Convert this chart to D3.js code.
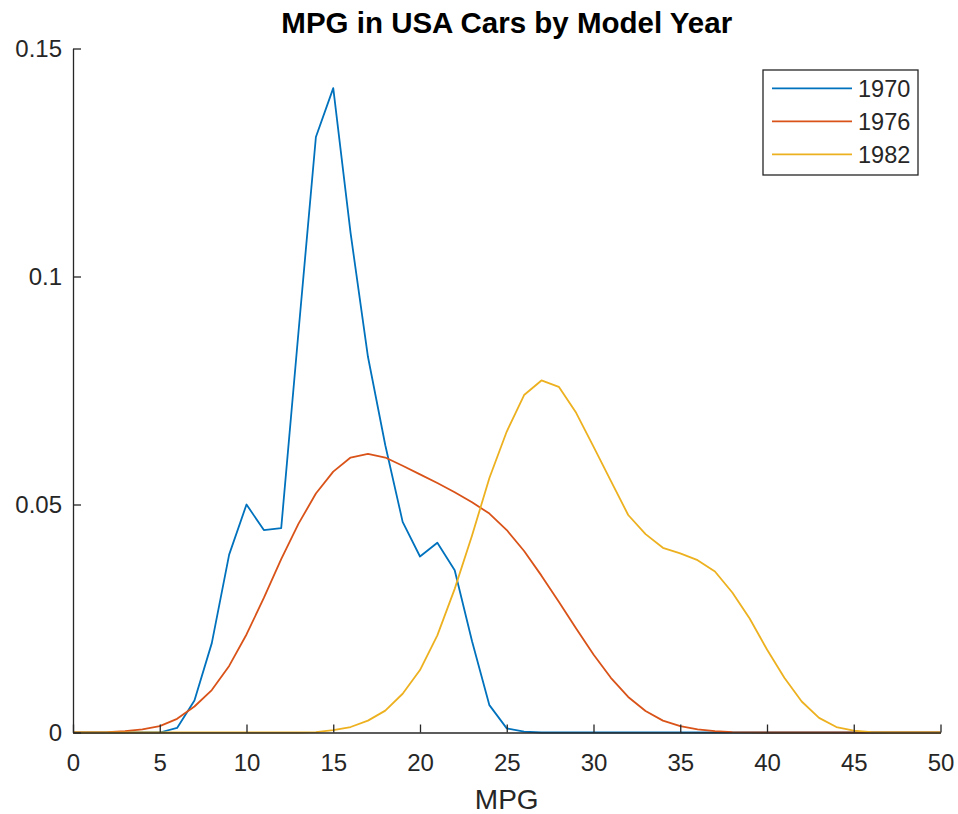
<!DOCTYPE html>
<html lang="en">
<head>
  <meta charset="UTF-8" />
  <title>MPG in USA Cars by Model Year</title>
  <script src="https://d3js.org/d3.v7.min.js"></script>
  <style>
    body {
      margin: 0;
      padding: 0;
      background-color: #fff;
    }
    svg {
      display: block;
      font-family: "Liberation Sans", Arial, Helvetica, sans-serif;
    }
    .axis path,
    .axis line {
      stroke: #262626;
      stroke-width: 1.3px;
    }
    .axis text {
      fill: #262626;
      font-size: 24px;
    }
  </style>
</head>
<body>
  <svg width="958" height="814"></svg>

  <script>
    // density estimates, sampled at MPG = 0, 1, 2, ... 50
    const mpg = d3.range(0, 51);

    const years = ["1970", "1976", "1982"];

    const density1970 = [
      0, 0, 0, 0, 0, 0, 0.001, 0.007, 0.0196, 0.039,
      0.050, 0.0444, 0.0448, 0.088, 0.1306, 0.1413, 0.1095, 0.0824, 0.063, 0.0462,
      0.0386, 0.0416, 0.0356, 0.020, 0.006, 0.0009, 0.0002, 0, 0, 0,
      0, 0, 0, 0, 0, 0, 0, 0, 0, 0,
      0, 0, 0, 0, 0, 0, 0, 0, 0, 0, 0
    ];

    const density1976 = [
      0, 0.00002, 0.0001, 0.0003, 0.0007, 0.0014, 0.0030, 0.0057, 0.0093, 0.0146,
      0.0215, 0.0295, 0.0380, 0.0458, 0.0524, 0.0572, 0.0603, 0.0611, 0.0603, 0.0585,
      0.0566, 0.0547, 0.0527, 0.0505, 0.0480, 0.0444, 0.0398, 0.0344, 0.0287, 0.0228,
      0.0171, 0.0120, 0.0078, 0.0047, 0.0026, 0.0014, 0.0007, 0.0003, 0.0001, 0.00003,
      0, 0, 0, 0, 0, 0, 0, 0, 0, 0, 0
    ];

    const density1982 = [
      0, 0, 0, 0, 0, 0, 0, 0, 0, 0,
      0, 0, 0, 0, 0.0001, 0.0005, 0.0012, 0.0026, 0.0048, 0.0085,
      0.0137, 0.0213, 0.0315, 0.0432, 0.0558, 0.0660, 0.0740, 0.0772, 0.0758, 0.0701,
      0.0627, 0.0552, 0.0477, 0.0435, 0.0405, 0.0393, 0.0378, 0.0353, 0.0307, 0.0250,
      0.0182, 0.0120, 0.0068, 0.0032, 0.0012, 0.0004, 0.0001, 0, 0, 0, 0
    ];

    const xTicks = [0, 5, 10, 15, 20, 25, 30, 35, 40, 45, 50];
    const yTicks = [0, 0.05, 0.1, 0.15];
    const yTickLabels = ["0", "0.05", "0.1", "0.15"];

    const colors = ["#0072BD", "#D95319", "#EDB120"];

    const series = [density1970, density1976, density1982].map((vals, i) => ({
      name: years[i],
      color: colors[i],
      values: vals.map((v, j) => ({ x: mpg[j], y: v }))
    }));

    const svg = d3.select("svg");

    const x = d3.scaleLinear().domain([0, 50]).range([73, 940.5]);
    const y = d3.scaleLinear().domain([0, 0.15]).range([732.5, 48.5]);

    const line = d3.line()
      .x(d => x(d.x))
      .y(d => y(d.y));

    // curves
    svg.append("g")
      .selectAll("path")
      .data(series)
      .enter().append("path")
      .attr("d", d => line(d.values))
      .attr("fill", "none")
      .attr("stroke", d => d.color)
      .attr("stroke-width", 1.8)
      .attr("stroke-linejoin", "round");

    // axes (ticks pointing inward, no box)
    svg.append("g")
      .attr("class", "axis")
      .attr("transform", `translate(0,${y(0)})`)
      .call(d3.axisBottom(x).tickValues(xTicks).tickFormat(d3.format("d"))
        .tickSizeInner(-8).tickSizeOuter(0).tickPadding(21));

    svg.append("g")
      .attr("class", "axis")
      .attr("transform", `translate(${x(0)},0)`)
      .call(d3.axisLeft(y).tickValues(yTicks).tickFormat((d, i) => yTickLabels[i])
        .tickSizeInner(-8).tickSizeOuter(0).tickPadding(11));

    // title and x label
    svg.append("text")
      .attr("x", (x(0) + x(50)) / 2)
      .attr("y", 33)
      .attr("text-anchor", "middle")
      .attr("font-size", "29.5px")
      .attr("font-weight", "bold")
      .attr("fill", "#000")
      .text("MPG in USA Cars by Model Year");

    svg.append("text")
      .attr("x", (x(0) + x(50)) / 2)
      .attr("y", 809)
      .attr("text-anchor", "middle")
      .attr("font-size", "28px")
      .attr("fill", "#262626")
      .text("MPG");

    // legend
    const legend = svg.append("g").attr("transform", "translate(763,70)");

    legend.append("rect")
      .attr("width", 155)
      .attr("height", 105)
      .attr("fill", "#fff")
      .attr("stroke", "#262626")
      .attr("stroke-width", 1.3);

    const rows = legend.selectAll("g.row")
      .data(series)
      .enter().append("g")
      .attr("class", "row")
      .attr("transform", (d, i) => `translate(0,${18.3 + i * 33})`);

    rows.append("line")
      .attr("x1", 9)
      .attr("x2", 89)
      .attr("stroke", d => d.color)
      .attr("stroke-width", 1.8);

    rows.append("text")
      .attr("x", 95)
      .attr("dy", "0.35em")
      .attr("font-size", "23.5px")
      .attr("fill", "#262626")
      .text(d => d.name);
  </script>
</body>
</html>
